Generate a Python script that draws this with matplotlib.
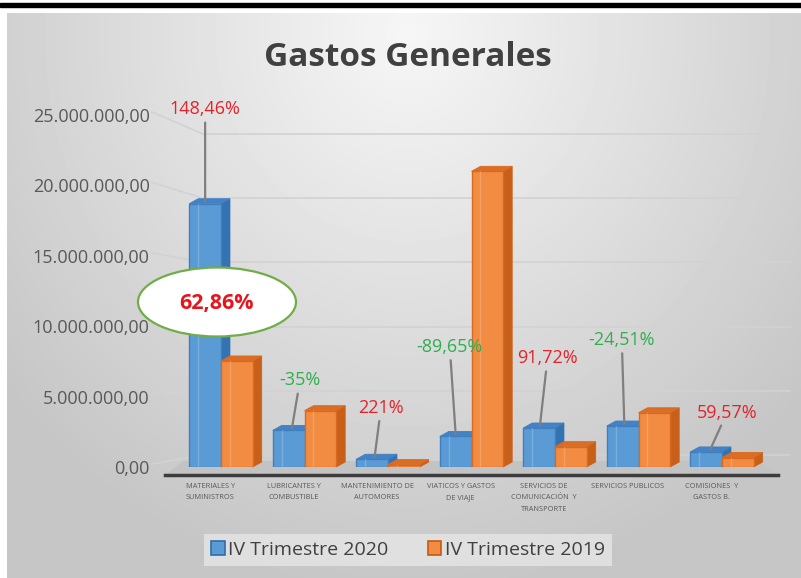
import numpy as np
import matplotlib
matplotlib.use("Agg")
import matplotlib.pyplot as plt
from matplotlib.patches import Polygon, Ellipse, Rectangle, Patch
from matplotlib.transforms import Affine2D

# ---------------- data ----------------
categories = ["MATERIALES Y\nSUMINISTROS", "LUBRICANTES Y\nCOMBUSTIBLE",
              "MANTENIMIENTO DE\nAUTOMORES", "VIATICOS Y GASTOS\nDE VIAJE",
              "SERVICIOS DE\nCOMUNICACIÓN  Y\nTRANSPORTE", "SERVICIOS PUBLICOS",
              "COMISIONES  Y\nGASTOS B."]
series_names = ["IV Trimestre 2020", "IV Trimestre 2019"]
values_2020 = [18.7e6, 2.60e6, 0.55e6, 2.17e6, 2.77e6, 2.91e6, 1.07e6]
values_2019 = [7.53e6, 4.00e6, 0.17e6, 21.0e6, 1.445e6, 3.85e6, 0.67e6]
pct_labels = ["148,46%", "-35%", "221%", "-89,65%", "91,72%", "-24,51%", "59,57%"]
pct_positive = [True, False, True, False, True, False, True]
highlight_label = "62,86%"
y_ticks = [0, 5e6, 10e6, 15e6, 20e6, 25e6]
y_tick_labels = ["0,00", "5.000.000,00", "10.000.000,00", "15.000.000,00",
                 "20.000.000,00", "25.000.000,00"]
title = "Gastos Generales"

# ---------------- layout ----------------
W, H = 801, 578
FONT = ["Open Sans", "DejaVu Sans"]
plt.rcParams["font.family"] = FONT

fig = plt.figure(figsize=(W / 100, H / 100), dpi=100)
fig.patch.set_facecolor("white")
px = Affine2D().scale(1 / W, -1 / H).translate(0, 1) + fig.transFigure

# background gradient panel
bg = fig.add_axes([7 / W, 0, (W - 7) / W, (H - 13) / H], zorder=0)
bg.set_axis_off()
yy, xx = np.mgrid[0:565, 0:794]
r = np.sqrt(((xx - 400) / 600.0) ** 2 + ((yy - 20) / 650.0) ** 2)
g = np.clip(246 - 56 * r, 198, 246) / 255.0
bg.imshow(g, cmap="gray", vmin=0, vmax=1, aspect="auto", interpolation="bilinear")

# black line at top
fig.add_artist(Rectangle((0, 3), W, 4, transform=px, color="black", zorder=1))

# main axes: x unit = 83.5 px, first category centre at px 221
left_px, right_px = 165, 790
unit = 83.5
c0 = 221
xmin = (left_px - c0) / unit
xmax = (right_px - c0) / unit
ax = fig.add_axes([left_px / W, (H - 467) / H, (right_px - left_px) / W, (467 - 115) / H], zorder=2)
ax.patch.set_alpha(0)
ax.set_xlim(xmin, xmax)
ax.set_ylim(0, 25e6)
for s in ax.spines.values():
    s.set_visible(False)
ax.set_xticks([])
ax.set_yticks(y_ticks)
ax.set_yticklabels(y_tick_labels)
ax.tick_params(axis="y", length=0, pad=11, labelsize=13, labelcolor="#595959")

# 3-D style gridlines (side wall + back wall)
mpp = 25e6 / (467 - 115)  # data units per pixel
x_side = (152 - c0) / unit
x_back = (203 - c0) / unit
for v in y_ticks:
    y_front = v + 3 * mpp
    y_back = v * (12.84 / 14.08) + 12 * mpp
    ax.plot([x_side, x_back], [y_front, y_back], color="#D2D2D2", lw=1.2, zorder=1, clip_on=False)
    ax.plot([x_back, xmax], [y_back, y_back], color="#D2D2D2", lw=1.2, zorder=1, clip_on=False)

# floor
floor = Polygon([(165, 475), (778, 475), (758, 461), (183, 461)], closed=True,
                transform=px, facecolor="#C3C3C3", edgecolor="none", zorder=2)
fig.add_artist(floor)
fig.add_artist(plt.Line2D([165, 778], [475, 475], transform=px, color="#3C3C3C", lw=2.5, zorder=2))

# bars
x = np.arange(len(categories))
w = 0.38
dx = 9 / unit
dy = 5 * mpp
styles = [
    dict(front="#5B9BD5", side="#3473B3", top="#4382C6", edge="#3F7FC0"),
    dict(front="#F28C42", side="#C8601A", top="#DB6D24", edge="#D9691F"),
]
for si, (vals, st) in enumerate(zip([values_2020, values_2019], styles)):
    xc = x - w / 2 if si == 0 else x + w / 2
    ax.bar(xc, vals, width=w, color=st["front"], edgecolor=st["edge"], linewidth=1.0, zorder=3 + si * 2)
    for xi, h in zip(xc, vals):
        x0, x1 = xi - w / 2, xi + w / 2
        ax.add_patch(Polygon([(x1, 0), (x1 + dx, dy), (x1 + dx, h + dy), (x1, h)], closed=True,
                             facecolor=st["side"], edgecolor=st["side"], lw=0.5, zorder=2.5 + si * 2,
                             clip_on=False))
        ax.add_patch(Polygon([(x0, h), (x0 + dx, h + dy), (x1 + dx, h + dy), (x1, h)], closed=True,
                             facecolor=st["top"], edgecolor=st["edge"], lw=0.6, zorder=3.5 + si * 2,
                             clip_on=False))
        ax.plot([x0 + w * 0.28, x0 + w * 0.28], [0, h], color="white", alpha=0.18, lw=1, zorder=3.6 + si * 2)

# category labels
lbl_tr = ax.get_xaxis_transform()
for i, c in enumerate(categories):
    ax.text(i - 0.13, -0.045, c, transform=lbl_tr, ha="center", va="top", fontsize=5.3,
            color="#595959", linespacing=1.9)

# percentage annotations
label_dx = [-0.19, -0.054, -0.084, -0.26, -0.09, -0.20, 0.06]
label_dy = [6.7e6, 3.55e6, 3.65e6, 6.35e6, 4.95e6, 6.1e6, 2.8e6]
end_dx = [0.0, 0.04, 0.03, 0.0, 0.01, 0.02, 0.05]
for i, (lab, pos) in enumerate(zip(pct_labels, pct_positive)):
    bx = i - w / 2 + end_dx[i]
    by = values_2020[i] + dy * 0.5
    col = "#E3232B" if pos else "#2EB04C"
    ax.annotate(lab, xy=(bx, by), xytext=(i + label_dx[i], values_2020[i] + label_dy[i]),
                ha="center", va="center", fontsize=13, color=col, zorder=12,
                annotation_clip=False,
                arrowprops=dict(arrowstyle="-", color="#7F7F7F", lw=1.6, shrinkA=1, shrinkB=0))

# highlight ellipse
ax.add_patch(Ellipse((217, 302), 158, 69, transform=px, facecolor="white", edgecolor="#70AD47",
                     lw=1.6, zorder=20, clip_on=False))
ax.text(217, 303, highlight_label, transform=px, ha="center", va="center", fontsize=15.5,
        fontweight="bold", color="#E8141C", zorder=21)

# title
fig.text(408 / W, 1 - 58 / H, title, ha="center", va="center", fontsize=24, fontweight="bold",
         color="#404040", zorder=5)

# legend
handles = [Patch(facecolor=styles[0]["front"], edgecolor="#2F6EAD", lw=1.2),
           Patch(facecolor=styles[1]["front"], edgecolor="#C55A11", lw=1.2)]
leg = fig.legend(handles, series_names, loc="center", bbox_to_anchor=(408 / W, 1 - 550 / H),
                 ncol=2, frameon=True, fontsize=14, handlelength=0.7, handleheight=0.7,
                 handletextpad=0.2, columnspacing=2.0, borderpad=0.35, fancybox=False)
leg.get_frame().set_facecolor("#E6E6E6")
leg.get_frame().set_edgecolor("none")
for t in leg.get_texts():
    t.set_color("#404040")

fig.savefig("out.png", dpi=100)
